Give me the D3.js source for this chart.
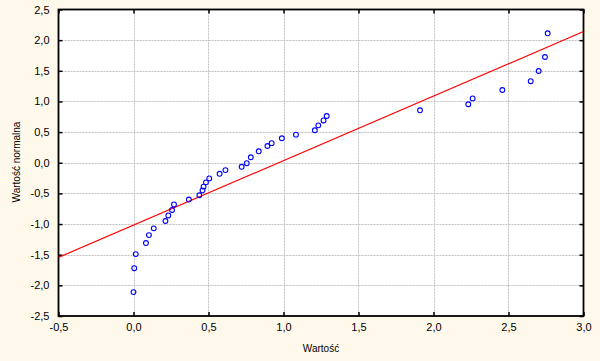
<!DOCTYPE html>
<html><head><meta charset="utf-8">
<script src="https://cdn.jsdelivr.net/npm/d3@7"></script>
<style>
html,body{margin:0;padding:0;background:#FFF9EC;}
svg{display:block;}
text{font-family:"Liberation Sans",Arial,sans-serif;fill:#000;}
</style></head>
<body>
<svg id="c" width="600" height="361"></svg>
<script>
// observed values (x) and expected normal values (y)
const xValues = [0.00,0.005,0.015,0.083,0.103,0.135,0.213,0.232,0.257,0.27,0.369,0.439,0.46,0.467,0.483,0.505,0.574,0.613,0.721,0.755,0.782,0.835,0.893,0.921,0.989,1.083,1.209,1.232,1.267,1.288,1.91,2.232,2.261,2.459,2.648,2.701,2.743,2.761];
const yValues = [-2.11,-1.72,-1.49,-1.31,-1.18,-1.07,-0.95,-0.86,-0.77,-0.68,-0.60,-0.53,-0.45,-0.39,-0.32,-0.255,-0.18,-0.12,-0.066,-0.007,0.09,0.187,0.273,0.32,0.40,0.458,0.53,0.61,0.69,0.763,0.856,0.954,1.05,1.187,1.33,1.497,1.725,2.112];
const lineX = [-0.5, 3.0];
const lineY = [-1.544, 2.14];
const xTicks = [-0.5,0,0.5,1,1.5,2,2.5,3];
const yTicks = [-2.5,-2,-1.5,-1,-0.5,0,0.5,1,1.5,2,2.5];
const xTitle = "Wartość";
const yTitle = "Wartość normalna";

const svg = d3.select("#c");
const L=58.5, R=583.5, T=9.5, B=316;
const x = d3.scaleLinear().domain([-0.5,3]).range([L,R]);
const y = d3.scaleLinear().domain([-2.5,2.5]).range([B,T]);
const fmt = d => d3.format(".1f")(d).replace(".", ",").replace("−","-");

svg.append("rect").attr("x",L).attr("y",T).attr("width",R-L).attr("height",B-T).attr("fill","#fff");

const g = svg.append("g");
// grid
g.selectAll(".gx").data(xTicks.filter(d=>d>-0.5&&d<3)).join("line")
 .attr("x1",d=>Math.round(x(d))+0.5).attr("x2",d=>Math.round(x(d))+0.5).attr("y1",T).attr("y2",B)
 .attr("stroke","#c0c0c0").attr("stroke-dasharray","2,1");
g.selectAll(".gy").data(yTicks.filter(d=>d>-2.5&&d<2.5)).join("line")
 .attr("y1",d=>Math.round(y(d))+0.5).attr("y2",d=>Math.round(y(d))+0.5).attr("x1",L).attr("x2",R)
 .attr("stroke","#c0c0c0").attr("stroke-dasharray","2,1");

// axes with inward ticks
const axB = svg.append("g").attr("transform",`translate(0,${B})`).call(d3.axisBottom(x).tickValues(xTicks).tickSize(-4).tickPadding(7).tickFormat(fmt));
const axT = svg.append("g").attr("transform",`translate(0,${T})`).call(d3.axisTop(x).tickValues(xTicks).tickSize(-4).tickFormat(""));
const axL = svg.append("g").attr("transform",`translate(${L},0)`).call(d3.axisLeft(y).tickValues(yTicks).tickSize(-4).tickPadding(9).tickFormat(fmt));
const axR = svg.append("g").attr("transform",`translate(${R},0)`).call(d3.axisRight(y).tickValues(yTicks).tickSize(-4).tickFormat(""));
[axB,axT,axL,axR].forEach(a=>{
  a.select(".domain").remove();
  a.selectAll(".tick line").attr("stroke","#000").attr("stroke-width",1.5);
  a.selectAll("text").attr("font-size","11px").attr("font-family","'Liberation Sans',Arial,sans-serif").attr("fill","#000");
});
svg.append("rect").attr("x",L).attr("y",T).attr("width",R-L).attr("height",B-T).attr("fill","none").attr("stroke","#000").attr("stroke-width",1.8);

// fit line
const clip = svg.append("clipPath").attr("id","pc").append("rect").attr("x",L).attr("y",T).attr("width",R-L).attr("height",B-T);
svg.append("line").attr("clip-path","url(#pc)")
 .attr("x1",x(lineX[0])).attr("y1",y(lineY[0])).attr("x2",x(lineX[1])).attr("y2",y(lineY[1]))
 .attr("stroke","#ff0000").attr("stroke-width",1.2);

// points
svg.append("g").selectAll("circle").data(xValues.map((v,i)=>[v,yValues[i]])).join("circle")
 .attr("cx",d=>x(d[0])).attr("cy",d=>y(d[1])).attr("r",2.4)
 .attr("fill","none").attr("stroke","#0000ff").attr("stroke-width",1.1);

// titles
svg.append("text").attr("x",321).attr("y",352).attr("text-anchor","middle").attr("font-size","10px").text(xTitle);
svg.append("text").attr("transform","translate(19.5,162) rotate(-90)").attr("text-anchor","middle").attr("font-size","10px").text(yTitle);
</script>
</body></html>
